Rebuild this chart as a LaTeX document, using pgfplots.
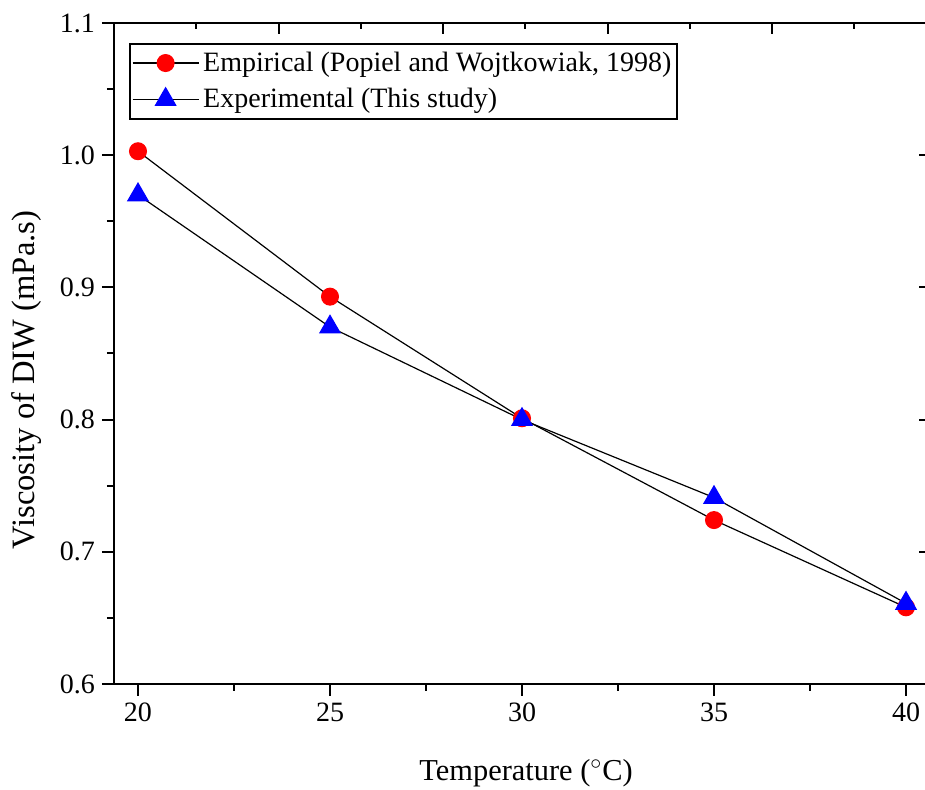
\documentclass[border=0pt]{standalone}
\usepackage{fontspec}
\setmainfont{Liberation Serif}
\usepackage{pgfplots}
\pgfplotsset{compat=1.18}
\begin{document}
\begin{tikzpicture}
\begin{axis}[name=ax, scale only axis, width=408pt, height=330.5pt,
  xmin=19.375, xmax=40.625, ymin=0.6, ymax=1.1,
  xtick={20,25,30,35,40}, ytick={0.6,0.7,0.8,0.9,1.0,1.1},
  minor x tick num=1, minor y tick num=1,
  xtick pos=bottom, ytick pos=left, tick align=outside,
  major tick length=6pt, minor tick length=3.5pt,
  axis line style={line width=1pt},
  every tick/.style={line width=1pt, black},
  tick label style={font=\fontsize{14}{16}\selectfont},
  /pgf/number format/assume math mode=true,
  yticklabel style={/pgf/number format/.cd, fixed, fixed zerofill, precision=1},
  xlabel={Temperature ($^{\circ}$C)},
  ylabel={Viscosity of DIW (mPa.s)},
  x label style={at={(axis description cs:0.505,-0.1346)}, anchor=center, font=\fontsize{15.2}{18}\selectfont},
  y label style={at={(axis description cs:-0.1066,0.46)}, anchor=center, rotate=0, font=\fontsize{16.3}{19}\selectfont},
  legend image code/.code={\draw[mark repeat=2, mark phase=2] plot coordinates {(0pt,0pt) (16.5pt,0pt) (33pt,0pt)};},
  legend cell align=left,
  legend style={at={(axis description cs:0.0184,0.970)}, anchor=north west, draw=black, line width=1pt,
    font=\fontsize{14}{17}\selectfont, inner xsep=1pt, inner ysep=2pt, row sep=3pt},
]
\addplot[black, line width=0.6pt, mark=*, mark size=4.2pt, mark options={fill=red, draw=red}]
  coordinates {(20,1.003) (25,0.893) (30,0.801) (35,0.724) (40,0.658)};
\addlegendentry{Empirical (Popiel and Wojtkowiak, 1998)}
\addplot[black, line width=0.6pt, mark=triangle*, mark size=5.8pt, mark options={fill=blue, draw=blue}]
  coordinates {(20,0.970) (25,0.870) (30,0.800) (35,0.741) (40,0.661)};
\addlegendentry{Experimental (This study)}
\end{axis}
\begin{axis}[scale only axis, width=408pt, height=330.5pt,
  xmin=0, xmax=4.9605, ymin=0.6, ymax=1.1,
  xtick={1,2,3,4}, minor xtick={0.5,1.5,2.5,3.5,4.5},
  ytick={0.7,0.8,0.9,1.0}, minor y tick num=0,
  xtick pos=top, ytick pos=right, tick align=inside,
  xticklabels={}, yticklabels={},
  major tick length=5.5pt, minor tick length=3pt,
  axis line style={line width=1pt},
  every tick/.style={line width=1pt, black},
]
\end{axis}
\pgfresetboundingbox
\path[use as bounding box] ([shift={(-57pt,-53pt)}]ax.south west) rectangle ([shift={(405.5pt,342pt)}]ax.south west);
\end{tikzpicture}
\end{document}
